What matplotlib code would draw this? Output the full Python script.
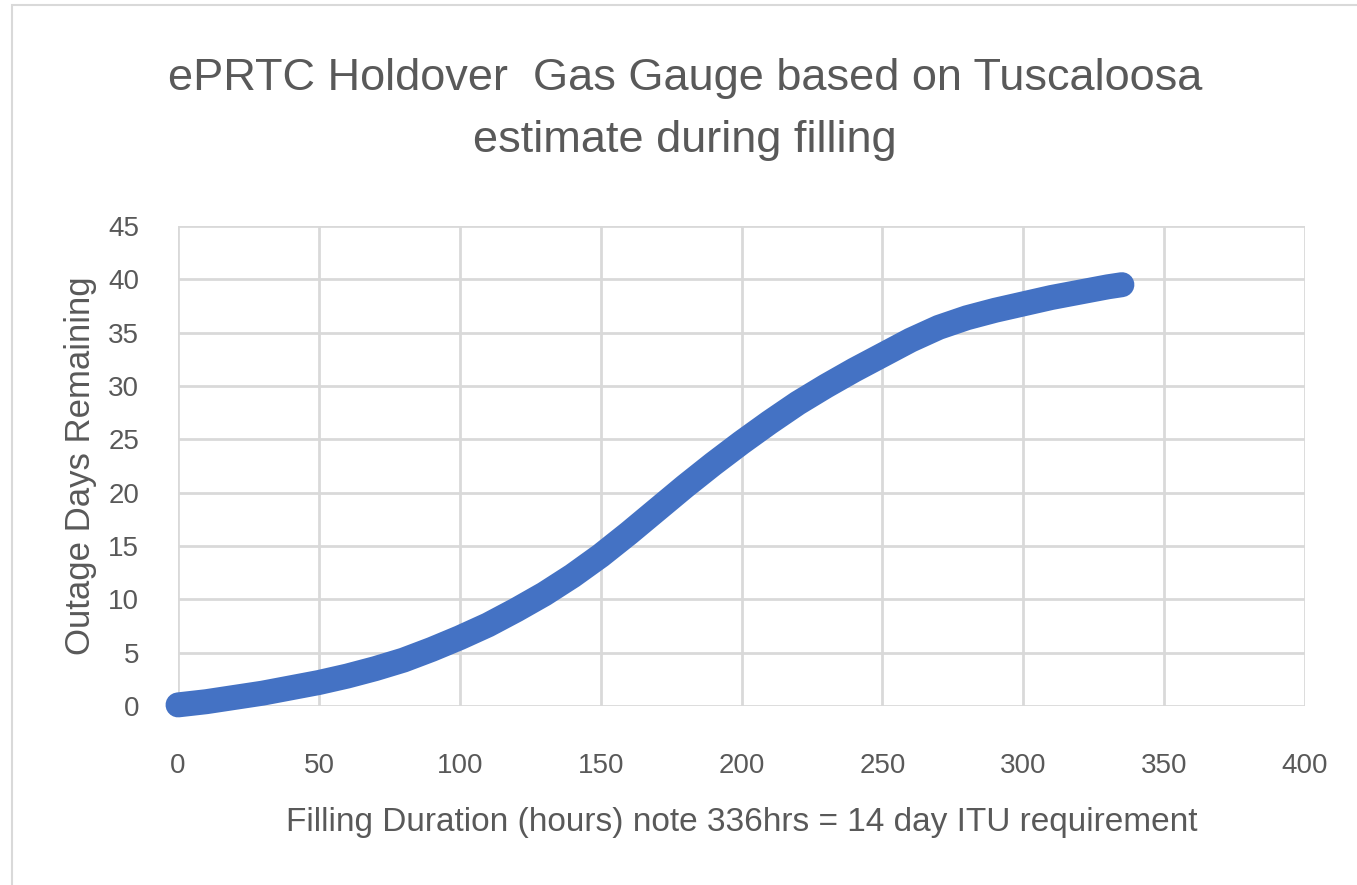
import matplotlib.pyplot as plt
from matplotlib.patches import Rectangle

# Filling duration (hours) vs outage days remaining
hours = [0, 10, 20, 30, 40, 50, 60, 70, 80, 90, 100, 110, 120, 130, 140,
         150, 160, 170, 180, 190, 200, 210, 220, 230, 240, 250, 260, 270,
         280, 290, 300, 310, 320, 330, 335]
days = [0.1, 0.4, 0.8, 1.2, 1.7, 2.2, 2.8, 3.5, 4.3, 5.3, 6.4, 7.6, 9.0,
        10.5, 12.2, 14.1, 16.2, 18.4, 20.6, 22.7, 24.7, 26.6, 28.4, 30.0,
        31.5, 32.9, 34.3, 35.5, 36.4, 37.1, 37.7, 38.3, 38.8, 39.3, 39.5]

xticks = [0, 50, 100, 150, 200, 250, 300, 350, 400]
yticks = [0, 5, 10, 15, 20, 25, 30, 35, 40, 45]

txt = '#595959'
plt.rcParams['font.family'] = ['Liberation Sans', 'DejaVu Sans']

fig = plt.figure(figsize=(13.57, 8.85), dpi=100)
ax = fig.add_axes([0.1312, 0.2023, 0.8305, 0.5423])

ax.plot(hours, days, color='#4472C4', lw=18, solid_capstyle='round',
        solid_joinstyle='round', zorder=3, clip_on=False)

ax.set_xlim(0, 400)
ax.set_ylim(0, 45)
ax.set_xticks(xticks)
ax.set_yticks(yticks)
ax.grid(True, color='#D9D9D9', lw=2)
ax.set_axisbelow(True)
for s in ax.spines.values():
    s.set_visible(False)
ax.tick_params(length=0, labelsize=20, colors=txt)
ax.tick_params(axis='x', pad=34)
ax.tick_params(axis='y', pad=28)

ax.set_xlabel('Filling Duration (hours) note 336hrs = 14 day ITU requirement',
              fontsize=24, color=txt, labelpad=20)
ax.set_ylabel('Outage Days Remaining', fontsize=25, color=txt, labelpad=8)

fig.text(0.505, 0.876, 'ePRTC Holdover  Gas Gauge based on Tuscaloosa\nestimate during filling',
         ha='center', va='center', fontsize=32.5, color=txt, linespacing=1.65)

fig.patches.append(Rectangle((0.009, -0.01), 1.0, 1.004, transform=fig.transFigure,
                             fill=False, ec='#D9D9D9', lw=1.5))

fig.savefig('out.png', dpi=100)
